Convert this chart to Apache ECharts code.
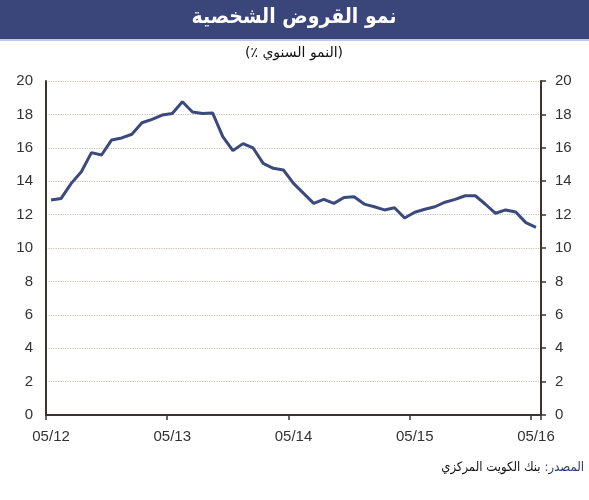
<!DOCTYPE html>
<html>
<head>
<meta charset="utf-8">
<script src="https://cdn.jsdelivr.net/npm/echarts@6/dist/echarts.min.js"></script>
<style>
    html, body { margin: 0; padding: 0; background: #fff; }
    #chart { width: 589px; height: 500px; }
</style>
</head>
<body>
<div id="chart"></div>
<script>
    // months, end of month
    const months = [
        '05/12', '06/12', '07/12', '08/12', '09/12', '10/12', '11/12', '12/12',
        '01/13', '02/13', '03/13', '04/13', '05/13', '06/13', '07/13', '08/13',
        '09/13', '10/13', '11/13', '12/13', '01/14', '02/14', '03/14', '04/14',
        '05/14', '06/14', '07/14', '08/14', '09/14', '10/14', '11/14', '12/14',
        '01/15', '02/15', '03/15', '04/15', '05/15', '06/15', '07/15', '08/15',
        '09/15', '10/15', '11/15', '12/15', '01/16', '02/16', '03/16', '04/16',
        '05/16'
    ];
    // النمو السنوي %
    const growth = [
        12.87, 12.97, 13.87, 14.57, 15.71, 15.57, 16.47, 16.59,
        16.81, 17.50, 17.70, 17.96, 18.06, 18.76, 18.14, 18.06,
        18.08, 16.67, 15.83, 16.25, 15.99, 15.07, 14.77, 14.67,
        13.87, 13.27, 12.67, 12.91, 12.67, 13.02, 13.07, 12.63,
        12.47, 12.28, 12.41, 11.80, 12.14, 12.32, 12.47, 12.74,
        12.91, 13.13, 13.13, 12.62, 12.08, 12.28, 12.16, 11.52,
        11.24
    ];
    const yMin = 0;
    const yMax = 20;
    const yStep = 2;

    // RLM (\u200F) keeps the neutral chars inside the right-to-left run
    const titleText = 'نمو القروض الشخصية';
    const subText = '\u200F(النمو السنوي ٪)\u200F';
    const sourceLabel = 'المصدر:\u200F';
    const sourceText = 'بنك الكويت المركزي';

    const chart = echarts.init(document.getElementById('chart'));
    const axisColor = '#3a3531';
    const labelStyle = { color: '#333', fontSize: 15, fontFamily: 'Liberation Sans, Arial, sans-serif' };
    const arabicFont = '"DejaVu Sans Condensed", "DejaVu Sans", sans-serif';

    const option = {
        animation: false,
        grid: { left: 46, right: 48, top: 81, bottom: 85, containLabel: false },
        graphic: [
            { type: 'rect', left: 0, top: 0, shape: { width: 589, height: 39 }, style: { fill: '#3a4579' }, silent: true },
            { type: 'rect', left: 0, top: 39, shape: { width: 589, height: 2 }, style: { fill: '#c3c6e6' }, silent: true },
            {
                type: 'text', x: 294, y: 18,
                style: { text: titleText, fill: '#fff', font: 'bold 21px ' + arabicFont, align: 'center', verticalAlign: 'middle' }
            },
            {
                type: 'text', x: 294, y: 53,
                style: { text: subText, fill: '#111', font: '14px "DejaVu Sans", sans-serif', align: 'center', verticalAlign: 'middle' }
            },
            {
                type: 'text', x: 584, y: 468,
                style: {
                    text: '{t|' + sourceText + '}{s|' + sourceLabel + '}',
                    align: 'right', verticalAlign: 'middle',
                    rich: {
                        t: { fill: '#111', fontSize: 13, fontFamily: arabicFont },
                        s: { fill: '#2c3a7a', fontSize: 13, fontFamily: arabicFont, padding: [0, 0, 0, 4] }
                    }
                }
            }
        ],
        xAxis: {
            type: 'category',
            data: months,
            boundaryGap: true,
            axisLine: { lineStyle: { color: axisColor, width: 2 } },
            axisTick: { show: true, interval: 11, length: 5, lineStyle: { color: axisColor, width: 1.5 } },
            axisLabel: Object.assign({ interval: 11, margin: 14 }, labelStyle),
            splitLine: { show: false }
        },
        yAxis: [
            {
                type: 'value', position: 'left',
                min: yMin, max: yMax, interval: yStep,
                axisLine: { show: true, lineStyle: { color: axisColor, width: 2 } },
                axisTick: { show: false },
                axisLabel: Object.assign({ margin: 13 }, labelStyle),
                splitLine: { show: true, lineStyle: { color: '#c9c0b6', type: 'dotted', width: 1.2 } }
            },
            {
                type: 'value', position: 'right',
                min: yMin, max: yMax, interval: yStep,
                axisLine: { show: true, lineStyle: { color: axisColor, width: 2 } },
                axisTick: { show: true, length: 5, lineStyle: { color: axisColor, width: 1.5 } },
                axisLabel: Object.assign({ margin: 14 }, labelStyle),
                splitLine: { show: false }
            }
        ],
        series: [
            {
                type: 'line',
                data: growth,
                yAxisIndex: 0,
                symbol: 'none',
                lineStyle: { color: '#3a4a7d', width: 3 }
            }
        ]
    };
    chart.setOption(option);
</script>
</body>
</html>
